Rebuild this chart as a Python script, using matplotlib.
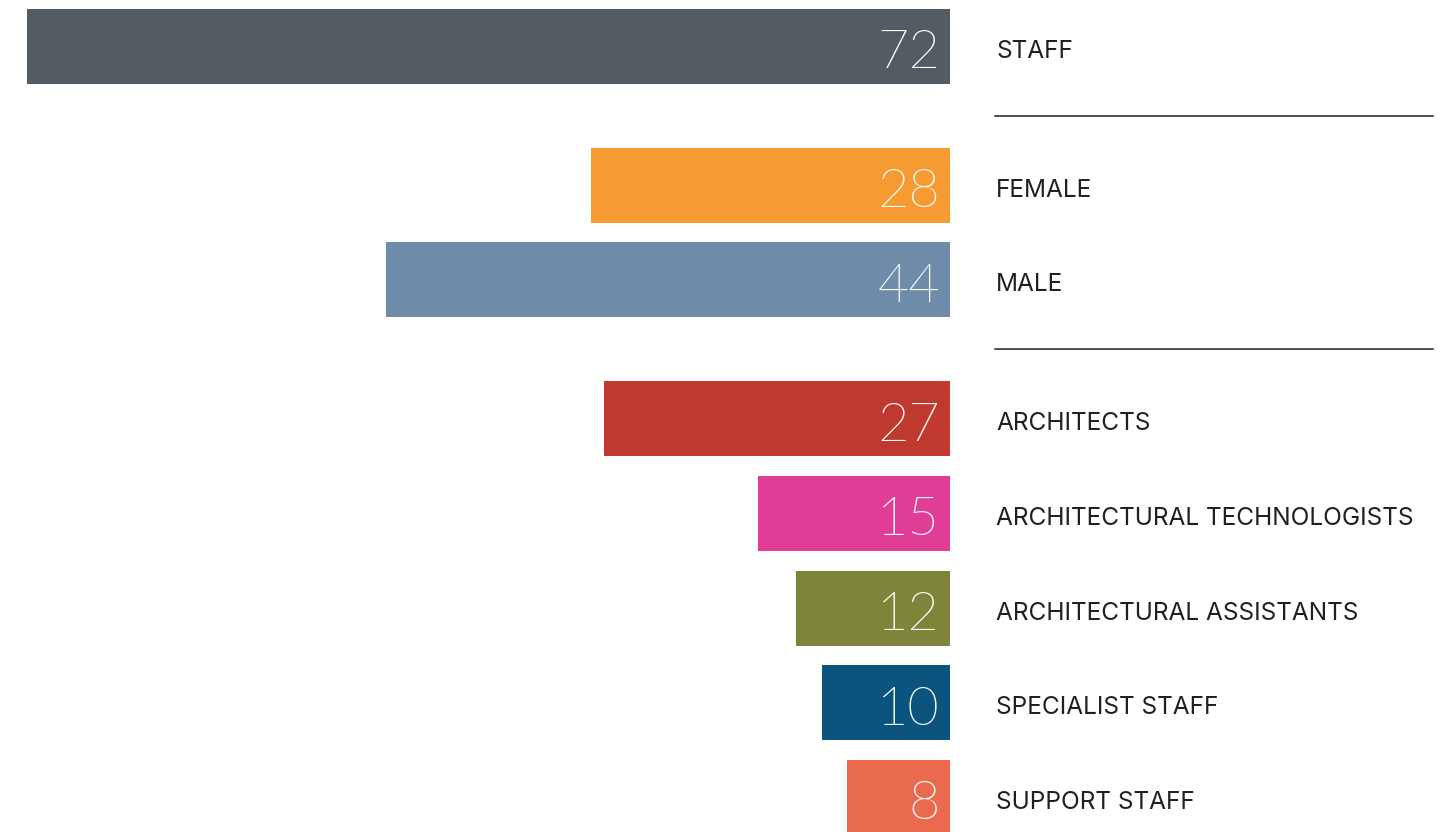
import matplotlib
matplotlib.use("Agg")
import matplotlib.pyplot as plt
from matplotlib import font_manager as fm

categories = ["STAFF", "FEMALE", "MALE", "ARCHITECTS", "ARCHITECTURAL TECHNOLOGISTS",
              "ARCHITECTURAL ASSISTANTS", "SPECIALIST STAFF", "SUPPORT STAFF"]
values = [72, 28, 44, 27, 15, 12, 10, 8]
groups = [0, 1, 1, 2, 2, 2, 2, 2]
colors = ["#535b63", "#f69a32", "#6f8dab", "#c0392f", "#e03d96", "#7e8439", "#0b547e", "#ea6a50"]


def pick_light_font():
    cands = []
    for f in fm.fontManager.ttflist:
        fn = f.fname.lower().replace("\\", "/").split("/")[-1]
        if "italic" in fn or f.style != "normal":
            continue
        if f.name == "Lato" and "light" in fn:
            cands.append((0, f.fname))
        elif f.name == "Roboto" and "light" in fn:
            cands.append((1, f.fname))
        elif f.name == "Open Sans" and "light" in fn:
            cands.append((2, f.fname))
    if cands:
        cands.sort()
        return fm.FontProperties(fname=cands[0][1], size=39)
    return fm.FontProperties(family="Lato", weight=300, size=39)


num_fp = pick_light_font()

W, H = 1450, 832
fig = plt.figure(figsize=(W / 100, H / 100), dpi=100)
ax = fig.add_axes([0, 0, 1, 1])

# layout (pixel units)
px_per_unit = 923 / 72.0
zero_px = 950
pitch = 94.6
gap = 44.5
top = 46
bar_h = 75

ys = [top + i * pitch + g * gap for i, g in enumerate(groups)]

ax.set_xlim(zero_px / px_per_unit, -(W - zero_px) / px_per_unit)
ax.set_ylim(H, 0)
ax.axis("off")

ax.barh(ys, values, height=bar_h, color=colors, left=0)

label_x = -(996 - zero_px) / px_per_unit
num_off = 10 / px_per_unit
for y, v, c in zip(ys, values, categories):
    ax.text(num_off, y + 22, str(v), ha="right", va="baseline", color="white",
            fontproperties=num_fp)
    ax.text(label_x, y + 11.5, c, ha="left", va="baseline", color="#231f20",
            fontsize=17.6, family="Inter", fontstyle="normal")

# separators between groups
x0 = -(995 - zero_px) / px_per_unit
x1 = -(1433 - zero_px) / px_per_unit
for i in range(1, len(groups)):
    if groups[i] != groups[i - 1]:
        ysep = (ys[i - 1] + ys[i]) / 2
        ax.plot([x0, x1], [ysep, ysep], color="#231f20", lw=1.1)

fig.savefig("out.png", dpi=100)
